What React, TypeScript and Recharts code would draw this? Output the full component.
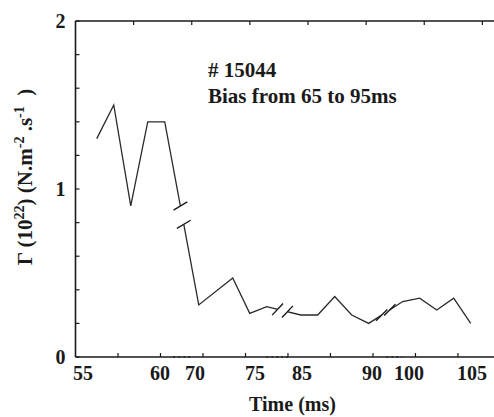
import React from 'react';
import { LineChart, Line, XAxis, YAxis, ReferenceLine, Customized } from 'recharts';

// ---- data ----
const times = [56, 57, 58, 59, 60, 70, 72, 73, 74, 86, 87, 88, 89, 90, 101, 102, 103, 104, 105];
const flux = [1.30, 1.50, 0.90, 1.40, 1.40, 0.31, 0.47, 0.26, 0.30, 0.25, 0.25, 0.36, 0.25, 0.20, 0.33, 0.35, 0.28, 0.35, 0.20];

const xTickLabels = ['55', '60', '70', '75', '85', '90', '100', '105'];
const yTicks = [0, 0.2, 0.4, 0.6, 0.8, 1, 1.2, 1.4, 1.6, 1.8, 2];
const yLabelled = [0, 1, 2];

// ---- layout of the broken time axis (axis units) ----
const axisShift = [
  { upTo: 62, shift: 54.75 },
  { upTo: 80, shift: 62.75 },
  { upTo: 95, shift: 72.75 },
  { upTo: 120, shift: 81.75 },
];
const toAxis = (t: number) => t - (axisShift.find((s) => t <= s.upTo) as any).shift;
const xTickLabelAt = [0.44, 4.97, 7.03, 10.56, 13.32, 17.44, 19.62, 23.32];
const xTickMarks = [2.5, 5, 7.5, 10, 12.5, 15, 17.5, 20, 22.5];
const axisGaps = [[5.56, 6.74], [11.03, 12.62], [18.09, 19.21]];
const lineBreaks = [
  { from: 4, f: [0.46, 0.56], angle: -31 },
  { from: 8, f: [0.32, 0.61], angle: -47 },
  { from: 13, f: [0.38, 0.62], angle: -45 },
];

const W = 494;
const H = 417;
const M = { top: 1, right: 0, bottom: 20, left: 15.5 };
const TOP_AXIS_H = 20;
const BOTTOM_AXIS_H = 40;
const Y_AXIS_W = 60;
const X_MAX = 24.62;
const PLOT_W = W - M.left - Y_AXIS_W - M.right;
const PLOT_H = H - M.top - TOP_AXIS_H - M.bottom - BOTTOM_AXIS_H;
const PX_X = PLOT_W / X_MAX;
const PX_Y = PLOT_H / 2;

const FONT = 'Times New Roman, Liberation Serif, Times, serif';
const INK = '#1a1a1a';

const rows = times.map((t, i) => ({ v: toAxis(t), flux: flux[i] }));

const near = (arr: number[], v: number) => arr.findIndex((a) => Math.abs(a - v) < 1e-6);
const allXTicks = [...xTickMarks, ...xTickLabelAt].sort((a, b) => a - b);

const BottomTick = (props: any) => {
  const { x, y, payload } = props;
  const v = payload.value;
  const isMark = near(xTickMarks, v) >= 0;
  const li = near(xTickLabelAt, v);
  return (
    <g>
      {isMark && <line x1={x} y1={y} x2={x} y2={y - 4} stroke={INK} strokeWidth={1.2} />}
      {li >= 0 && (
        <text x={x} y={y + 23} textAnchor="middle" style={{ fontFamily: FONT }} fontWeight="bold" fontSize={20} fill={INK}>
          {xTickLabels[li]}
        </text>
      )}
    </g>
  );
};

const TopTick = (props: any) => {
  const { x, y } = props;
  return <line x1={x} y1={y} x2={x} y2={y + 4} stroke={INK} strokeWidth={1.2} />;
};

const LeftTick = (props: any) => {
  const { x, y, payload } = props;
  const v = payload.value;
  const li = near(yLabelled, v);
  return (
    <g>
      <line x1={x} y1={y} x2={x + 4} y2={y} stroke={INK} strokeWidth={1.2} />
      {li >= 0 && (
        <text x={x - 10} y={y + 7} textAnchor="end" style={{ fontFamily: FONT }} fontWeight="bold" fontSize={20} fill={INK}>
          {String(yLabelled[li])}
        </text>
      )}
    </g>
  );
};

const Texts = () => (
  <g style={{ fontFamily: FONT }} fontWeight="bold" fill={INK}>
    <text x={208} y={77} fontSize={21}>{'# 15044'}</text>
    <text x={208} y={103} fontSize={21}>Bias from 65 to 95ms</text>
    <text x={292.5} y={411} fontSize={20} textAnchor="middle">Time (ms)</text>
    <text x={32} y={177} fontSize={21} textAnchor="middle" transform="rotate(-90 32 177)" style={{ whiteSpace: 'pre' }}>
      <tspan>Γ (10</tspan>
      <tspan dy={-8} fontSize={14}>22</tspan>
      <tspan dy={8}>) (N.m</tspan>
      <tspan dy={-8} fontSize={14}>-2</tspan>
      <tspan dy={8}> .s</tspan>
      <tspan dy={-8} fontSize={14}>-1</tspan>
      <tspan dy={8}>{'  )'}</tspan>
    </text>
  </g>
);

function breakSegments() {
  const out: any[] = [];
  lineBreaks.forEach((b, bi) => {
    const a = rows[b.from];
    const c = rows[b.from + 1];
    const pts = b.f.map((f) => ({ x: a.v + f * (c.v - a.v), y: a.flux + f * (c.flux - a.flux) }));
    out.push(
      <ReferenceLine key={`w${bi}`} segment={pts} stroke="#ffffff" strokeWidth={5} ifOverflow="visible" />
    );
    const rad = (b.angle * Math.PI) / 180;
    const dv = (8 * Math.cos(rad)) / PX_X;
    const dy = (-8 * Math.sin(rad)) / PX_Y;
    pts.forEach((p, pi) => {
      out.push(
        <ReferenceLine
          key={`s${bi}-${pi}`}
          segment={[{ x: p.x - dv, y: p.y - dy }, { x: p.x + dv, y: p.y + dy }]}
          stroke={INK}
          strokeWidth={1.4}
          ifOverflow="visible"
        />
      );
    });
  });
  return out;
}

export default function App() {
  return (
    <div style={{ position: 'absolute', left: 0, top: 0, width: W, height: H, background: '#fff' }}>
      <LineChart width={W} height={H} data={rows} margin={M}>
        <XAxis
          dataKey="v"
          type="number"
          domain={[0, X_MAX]}
          allowDataOverflow
          ticks={allXTicks}
          interval={0}
          height={BOTTOM_AXIS_H}
          tickSize={0}
          tickMargin={0}
          tickLine={false}
          tick={<BottomTick />}
          axisLine={{ stroke: INK, strokeWidth: 1.6 }}
        />
        <XAxis
          xAxisId="top"
          orientation="top"
          type="number"
          domain={[0, X_MAX]}
          allowDataOverflow
          ticks={xTickMarks}
          interval={0}
          height={TOP_AXIS_H}
          tickSize={0}
          tickMargin={0}
          tickLine={false}
          tick={<TopTick />}
          axisLine={{ stroke: INK, strokeWidth: 1.6 }}
        />
        <YAxis
          type="number"
          domain={[0, 2]}
          ticks={yTicks}
          interval={0}
          width={Y_AXIS_W}
          tickSize={0}
          tickMargin={0}
          tickLine={false}
          tick={<LeftTick />}
          axisLine={{ stroke: INK, strokeWidth: 1.6 }}
        />
        <Line
          dataKey="flux"
          type="linear"
          stroke="#2a2a2a"
          strokeWidth={1.3}
          dot={false}
          isAnimationActive={false}
        />
        {axisGaps.map((g, i) => (
          <ReferenceLine
            key={`gw${i}`}
            segment={[{ x: g[0], y: 0 }, { x: g[1], y: 0 }]}
            stroke="#ffffff"
            strokeWidth={4}
            ifOverflow="visible"
          />
        ))}
        {axisGaps.map((g, i) => (
          <ReferenceLine
            key={`gd${i}`}
            segment={[{ x: g[0] + 0.2, y: 0 }, { x: g[1], y: 0 }]}
            stroke={INK}
            strokeWidth={1.6}
            strokeDasharray="1.6 3.4"
            ifOverflow="visible"
          />
        ))}
        {breakSegments()}
        <Customized component={Texts} />
      </LineChart>
    </div>
  );
}
